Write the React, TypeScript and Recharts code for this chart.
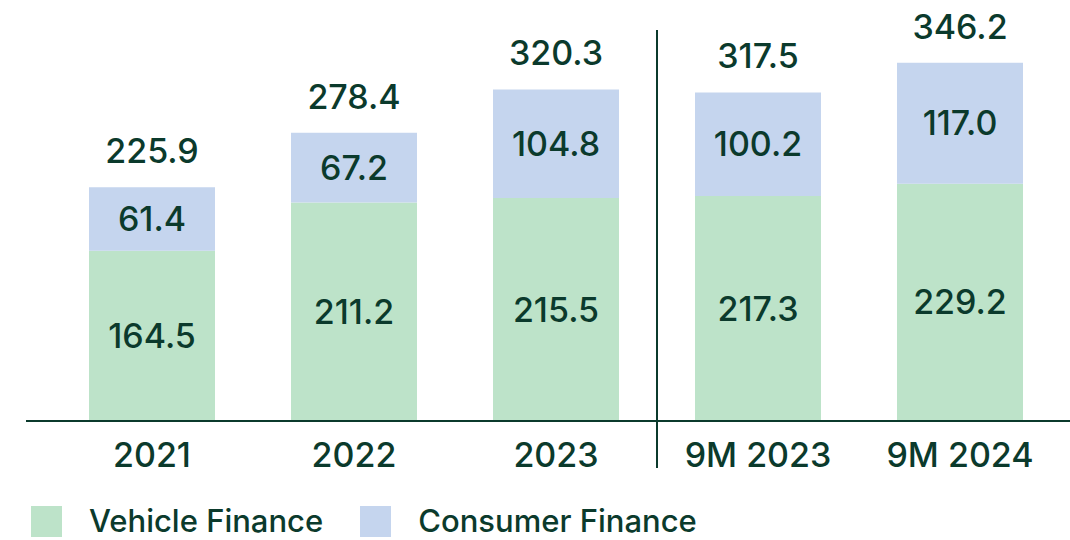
import React from 'react';
import { BarChart, Bar, XAxis, YAxis, LabelList, ReferenceLine } from 'recharts';

const categories = ['2021', '2022', '2023', '9M 2023', '9M 2024'];
const vehicleFinance = [164.5, 211.2, 215.5, 217.3, 229.2];
const consumerFinance = [61.4, 67.2, 104.8, 100.2, 117.0];
const totals = [225.9, 278.4, 320.3, 317.5, 346.2];
const seriesNames = ['Vehicle Finance', 'Consumer Finance'];

const GREEN = '#bde3c9';
const BLUE = '#c5d5ee';
const DARK = '#0b3a2c';
const FONT = 'Inter, "Noto Sans", sans-serif';

const data = categories.map((c, i) => ({
  name: c,
  vehicle: vehicleFinance[i],
  consumer: consumerFinance[i],
  total: totals[i],
}));

const W = 1070;
const H = 540;
const LEFT = 26;
const PAD_L = 25;
const PAD_R = 9;
const BAND = (W - LEFT - PAD_L - PAD_R) / categories.length;

const fmt = (v: any) => Number(v).toFixed(1);

const SeparatorShape = (props: any) => {
  const x = props.x1 + BAND / 2;
  return <line x1={x} x2={x} y1={30} y2={468} stroke={DARK} strokeWidth={2} />;
};

export default function App() {
  return (
    <div style={{ position: 'absolute', left: 0, top: 0, width: W, height: H, background: '#fff', fontFamily: FONT }}>
      <BarChart
        width={W}
        height={H}
        data={data}
        margin={{ top: 7, right: 0, bottom: 59, left: LEFT }}
        barSize={126}
      >
        <XAxis
          dataKey="name"
          height={60}
          axisLine={{ stroke: DARK, strokeWidth: 2 }}
          tickLine={false}
          tickMargin={16}
          padding={{ left: PAD_L, right: PAD_R }}
          tick={{ fill: DARK, fontSize: 34, fontFamily: FONT, fontWeight: 500 }}
          interval={0}
        />
        <YAxis hide domain={[0, 400]} />
        <ReferenceLine x="2023" ifOverflow="visible" shape={SeparatorShape} />
        <Bar dataKey="vehicle" stackId="a" fill={GREEN} isAnimationActive={false}>
          <LabelList dataKey="vehicle" position="center" formatter={fmt} fill={DARK} fontSize={34} fontFamily={FONT} fontWeight={500} />
        </Bar>
        <Bar dataKey="consumer" stackId="a" fill={BLUE} isAnimationActive={false}>
          <LabelList dataKey="consumer" position="center" formatter={fmt} fill={DARK} fontSize={34} fontFamily={FONT} fontWeight={500} />
          <LabelList dataKey="total" position="top" offset={24} formatter={fmt} fill={DARK} fontSize={34} fontFamily={FONT} fontWeight={500} />
        </Bar>
      </BarChart>
      <div style={{ position: 'absolute', left: 31, top: 505, display: 'flex', alignItems: 'center', color: DARK, fontSize: 31, fontFamily: FONT, fontWeight: 500, lineHeight: '32px' }}>
        <div style={{ width: 31, height: 31, background: GREEN }} />
        <span style={{ marginLeft: 27 }}>{seriesNames[0]}</span>
        <div style={{ width: 31, height: 31, background: BLUE, marginLeft: 37 }} />
        <span style={{ marginLeft: 27 }}>{seriesNames[1]}</span>
      </div>
    </div>
  );
}
